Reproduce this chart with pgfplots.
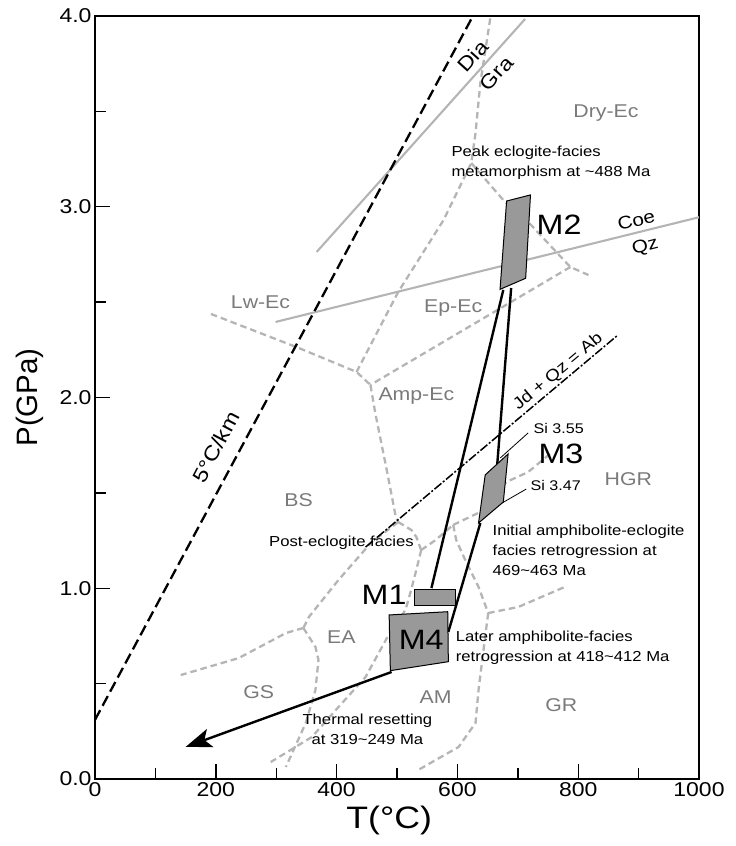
\documentclass[border=0pt]{standalone}
\usepackage{fontspec}
\setmainfont{Liberation Sans}[FakeStretch=1.15]
\newfontfamily\ylabfont{Liberation Sans}
\usepackage{pgfplots}
\pgfplotsset{compat=1.18}
\usetikzlibrary{arrows.meta}
\definecolor{facies}{HTML}{B5B5B5}
\definecolor{faclab}{HTML}{7A7A7A}
\definecolor{boxfill}{HTML}{999999}
\definecolor{reaction}{HTML}{B4B4B4}
\newcommand{\fs}[2]{\fontsize{#1bp}{#2bp}\selectfont}
\tikzset{
  fac/.style={facies, line width=2.3bp, dash pattern=on 6.5bp off 4bp},
  ptpath/.style={black, line width=2.4bp},
  flab/.style={faclab, font=\fs{18.5}{22}},
  mlab/.style={black, font=\fs{28}{32}},
  ann/.style={black, font=\fs{14.5}{20}},
}
\begin{document}
\begin{tikzpicture}
\useasboundingbox (0,0) rectangle (736bp,846bp);
\begin{axis}[
  at={(95bp,67bp)}, anchor=south west,
  scale only axis, width=604bp, height=763bp,
  xmin=0, xmax=1000, ymin=0, ymax=4,
  axis line style={line width=1.6bp},
  xtick={0,200,...,1000}, minor xtick={100,300,...,900},
  ytick={0,1,...,4}, minor ytick={0.5,1.5,...,3.5},
  tick align=inside, xtick pos=bottom, ytick pos=left,
  major tick length=15bp, minor tick length=11bp,
  tick style={black, line width=1.4bp},
  tick label style={font=\fs{20}{24}},
  /pgf/number format/assume math mode=true,
  yticklabel style={/pgf/number format/fixed, /pgf/number format/fixed zerofill, /pgf/number format/precision=1},
  xticklabel style={/pgf/number format/fixed, /pgf/number format/1000 sep={}},
  clip=false,
  xlabel={T(°C)}, ylabel={P(GPa)},
  xlabel style={at={(axis description cs:0.487,-0.054)}, anchor=center, font=\fs{31}{36}},
  ylabel style={at={(axis description cs:-0.1076,0.5)}, anchor=center, font=\ylabfont\fs{29.5}{34}},
]
% facies boundaries
\addplot[fac] coordinates {(192,2.438) (337,2.26) (433,2.134) (456,2.066)};
\addplot[fac] coordinates {(433,2.134) (502,2.553) (577,2.93) (623,3.229) (630,3.387) (638,3.649) (655,4.0)};
\addplot[fac] coordinates {(623,3.229) (676,3.035) (722,2.904) (787,2.684) (817,2.642)};
\addplot[fac] coordinates {(787,2.684) (456,2.066)};
\addplot[fac] coordinates {(456,2.066) (464,1.919) (483,1.62) (498,1.374) (502,1.347)};
\addplot[fac] coordinates {(502,1.347) (524,1.305) (532,1.269) (540,1.2)};
\addplot[fac] coordinates {(502,1.347) (458,1.242) (403,1.043) (354,0.849) (345,0.792)};
\addplot[fac] coordinates {(345,0.792) (316,0.765) (238,0.634) (142,0.545)};
\addplot[fac] coordinates {(345,0.792) (365,0.692) (370,0.624) (365,0.467) (349,0.294) (316,0.063)};
\addplot[fac] coordinates {(540,1.2) (532,1.096) (522,0.975) (514,0.886) (486,0.755) (448,0.535) (403,0.377) (359,0.22) (291,0.089)};
\addplot[fac] coordinates {(540,1.2) (564,1.253) (593,1.332)};
\addplot[fac] coordinates {(593,1.332) (638,1.4) (681,1.557) (717,1.609) (755,1.709)};
\addplot[fac] coordinates {(593,1.332) (598,1.253) (613,1.148) (635,1.007) (651,0.870)};
\addplot[fac] coordinates {(651,0.87) (701,0.902) (778,1.007)};
\addplot[fac] coordinates {(651,0.87) (648,0.797) (635,0.467) (630,0.294) (602,0.168) (535,0.047)};
% reaction lines
\addplot[reaction, line width=2.1bp] coordinates {(367,2.763) (712,3.984)};
\addplot[reaction, line width=2.1bp] coordinates {(299,2.396) (1000,2.945)};
% geotherm
\addplot[black, line width=2.3bp, dash pattern=on 11bp off 5bp] coordinates {(0,0.31) (623,3.984)};
% Jd + Qz = Ab
\addplot[black, line width=1.5bp, dash pattern=on 9bp off 2bp on 2bp off 2bp] coordinates {(448,1.216) (866,2.328)};
% P-T path
\addplot[ptpath] coordinates {(557,1.001) (676,2.564)};
\addplot[ptpath] coordinates {(689,2.574) (666,1.651)};
\addplot[ptpath] coordinates {(638,1.342) (585,0.771)};
\addplot[ptpath, -{Stealth[length=26bp,width=19bp,inset=6bp]}] coordinates {(491,0.561) (150,0.168)};
% leaders
\addplot[black, line width=0.8bp] coordinates {(671,1.683) (717,1.814)};
\addplot[black, line width=0.8bp] coordinates {(674,1.447) (714,1.520)};
% boxes
\addplot[fill=boxfill, draw=black, line width=1bp] coordinates {(681.5,3.030) (721,3.062) (713,2.625) (670.6,2.567) (681.5,3.030)} -- cycle;
\addplot[fill=boxfill, draw=black, line width=1bp] coordinates {(646,1.594) (684,1.704) (676,1.452) (635,1.342) (646,1.594)} -- cycle;
\addplot[fill=boxfill, draw=black, line width=1bp] coordinates {(529,0.912) (597,0.912) (597,0.996) (529,0.996) (529,0.912)} -- cycle;
\addplot[fill=boxfill, draw=black, line width=1bp] coordinates {(487,0.860) (584,0.877) (585,0.615) (489,0.568) (487,0.860)} -- cycle;
% facies labels
\node[flab] at (axis cs:846,3.49) {Dry-Ec};
\node[flab] at (axis cs:274,2.50) {Lw-Ec};
\node[flab] at (axis cs:593,2.47) {Ep-Ec};
\node[flab] at (axis cs:532,2.01) {Amp-Ec};
\node[flab] at (axis cs:337,1.46) {BS};
\node[flab] at (axis cs:883,1.57) {HGR};
\node[flab] at (axis cs:408,0.745) {EA};
\node[flab] at (axis cs:271,0.456) {GS};
\node[flab] at (axis cs:564,0.43) {AM};
\node[flab] at (axis cs:772,0.388) {GR};
% M labels
\node[mlab, anchor=east, inner sep=0pt] at (axis cs:516,0.965) {M1};
\node[mlab, anchor=west, inner sep=0pt] at (axis cs:731,2.904) {M2};
\node[mlab, anchor=west, inner sep=0pt] at (axis cs:734,1.704) {M3};
\node[mlab, inner sep=0pt] at (axis cs:540,0.729) {M4};
% small labels
\node[black, font=\fs{14}{16}, anchor=west, inner sep=0pt] at (axis cs:726,1.840) {Si 3.55};
\node[black, font=\fs{14}{16}, anchor=west, inner sep=0pt] at (axis cs:721,1.541) {Si 3.47};
\node[ann, anchor=west, align=left, inner sep=0pt] at (axis cs:590,3.229) {Peak eclogite-facies\\metamorphism at \textasciitilde488 Ma};
\node[ann, anchor=west, inner sep=0pt] at (axis cs:288,1.237) {Post-eclogite facies};
\node[ann, anchor=west, align=left, inner sep=0pt] at (axis cs:658,1.198) {Initial amphibolite-eclogite\\facies retrogression at\\469\textasciitilde463 Ma};
\node[ann, anchor=west, align=left, inner sep=0pt] at (axis cs:597,0.687) {Later amphibolite-facies\\retrogression at 418\textasciitilde412 Ma};
\node[ann, align=center, inner sep=0pt] at (axis cs:451,0.26) {Thermal resetting\\at 319\textasciitilde249 Ma};
% rotated labels
\node[black, font=\fs{20.5}{24}, rotate=62, inner sep=0pt] at (axis cs:200,1.74) {5°C/km};
\node[black, font=\fs{16.5}{20}, rotate=40, inner sep=0pt] at (axis cs:767,2.134) {Jd + Qz = Ab};
\node[black, font=\fs{20}{24}, rotate=48, inner sep=0pt] at (axis cs:626,3.79) {Dia};
\node[black, font=\fs{20}{24}, rotate=48, inner sep=0pt] at (axis cs:665,3.70) {Gra};
\node[black, font=\fs{18}{20}, rotate=14, inner sep=0pt] at (axis cs:896,2.93) {Coe};
\node[black, font=\fs{18}{20}, rotate=14, inner sep=0pt] at (axis cs:911,2.79) {Qz};
\end{axis}
\end{tikzpicture}
\end{document}
